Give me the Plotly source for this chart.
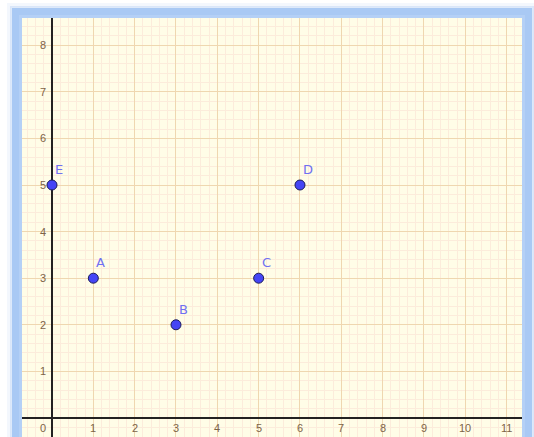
import plotly.graph_objects as go

# Data
point_names = ["A", "B", "C", "D", "E"]
point_x = [1, 3, 5, 6, 0]
point_y = [3, 2, 3, 5, 5]

x_ticks = [0, 1, 2, 3, 4, 5, 6, 7, 8, 9, 10, 11]
y_ticks = [1, 2, 3, 4, 5, 6, 7, 8]

X_RANGE = [-0.726, 11.372]
Y_RANGE = [-0.408, 8.584]

fig = go.Figure()

# Points
fig.add_trace(go.Scatter(
    x=point_x, y=point_y, mode="markers",
    marker=dict(size=10, color="#4545f5", line=dict(color="#1c1c5a", width=1)),
    hoverinfo="skip", showlegend=False,
))

# Point labels
for n, x, y in zip(point_names, point_x, point_y):
    fig.add_annotation(x=x, y=y, text=n, showarrow=False,
                       xanchor="left", yanchor="bottom", xshift=1, yshift=6,
                       font=dict(family="DejaVu Sans", size=13, color="#7070f2"))

# Tick labels drawn inside plot area
tick_font = dict(family="Liberation Sans, Arial", size=11, color="#7d6448")
for t in x_ticks:
    fig.add_annotation(x=t, y=0, text=str(t), showarrow=False,
                       xanchor="center", yanchor="middle",
                       xshift=-9 if t == 0 else 0, yshift=-10,
                       font=tick_font)
for t in y_ticks:
    fig.add_annotation(x=0, y=t, text=str(t), showarrow=False,
                       xanchor="right", yanchor="middle", xshift=-4,
                       font=tick_font)

axis_common = dict(
    showgrid=True, gridcolor="#efd7b0", gridwidth=1,
    zeroline=True, zerolinecolor="#222222", zerolinewidth=1.2,
    showticklabels=False, ticks="", showline=False,
    minor=dict(dtick=0.2, showgrid=True, gridcolor="#fcecdb", gridwidth=1),
    fixedrange=True,
)
fig.update_xaxes(range=X_RANGE, dtick=1, tick0=0, **axis_common)
fig.update_yaxes(range=Y_RANGE, dtick=1, tick0=0, **axis_common)

# Blue glowing frame around plot area (paper coords)
W, H = 500.0, 419.0
def px(x):
    return (x - 22) / W
def py(y):
    return 1 - (y - 18) / H

# (offset of line centre from plot edge in px, width, colour, opacity)
frame = [
    (13, 4, "#dde9fa", 0.35),
    (10.5, 3, "#c8dcf8", 0.6),
    (5, 10, "#a9c9f4", 1.0),
    (1.5, 3, "#b4d0f6", 1.0),
]
for off, w, col, op in frame:
    fig.add_shape(type="rect", xref="paper", yref="paper",
                  x0=px(22 - off), x1=px(522 + off), y0=py(437 + 40), y1=py(18 - off),
                  line=dict(color=col, width=w), opacity=op, layer="above")

fig.update_layout(
    width=534, height=437,
    margin=dict(l=22, r=12, t=18, b=0),
    paper_bgcolor="white", plot_bgcolor="#fffde7",
    showlegend=False,
)

fig.write_html("out.html", config={"displayModeBar": False, "staticPlot": True},
               post_script="document.body.style.margin='0px';document.body.style.overflow='hidden';")
